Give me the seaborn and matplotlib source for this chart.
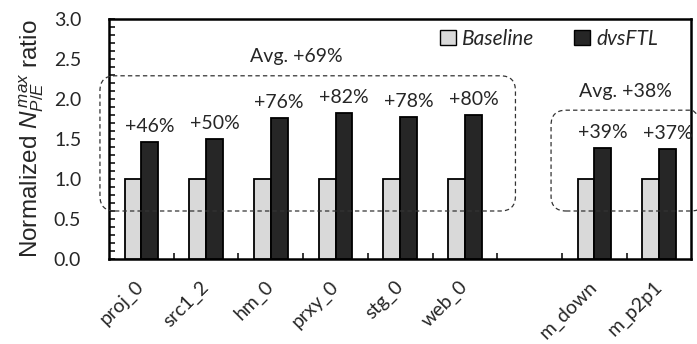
import numpy as np
import pandas as pd
import matplotlib
matplotlib.use("Agg")
import matplotlib.pyplot as plt
import matplotlib.transforms as mtransforms
from matplotlib.patches import FancyBboxPatch, Patch
from matplotlib.ticker import MultipleLocator, FixedLocator, NullFormatter
import seaborn as sns

# ---- data -------------------------------------------------------------
workloads = ["proj_0", "src1_2", "hm_0", "prxy_0", "stg_0", "web_0", "m_down", "m_p2p1"]
baseline = [1.00, 1.00, 1.00, 1.00, 1.00, 1.00, 1.00, 1.00]
dvsftl = [1.46, 1.50, 1.76, 1.82, 1.78, 1.80, 1.39, 1.37]
schemes = ["Baseline", "dvsFTL"]
scheme_colors = ["#d9d9d9", "#262626"]
group_a = workloads[:6]
group_b = workloads[6:]
yticks = [0.0, 0.5, 1.0, 1.5, 2.0, 2.5, 3.0]

# an empty slot separates the two workload groups on the x axis
slots = group_a + [" "] + group_b

df = pd.DataFrame({
    "workload": workloads * 2,
    "scheme": ["Baseline"] * len(workloads) + ["dvsFTL"] * len(workloads),
    "ratio": baseline + dvsftl,
})

# ---- style ------------------------------------------------------------
sns.set_style("ticks")
FONT = "Lato"
LABEL_FONT = "Liberation Sans"
plt.rcParams["font.family"] = [FONT, "DejaVu Sans"]
plt.rcParams["mathtext.fontset"] = "custom"
plt.rcParams["mathtext.rm"] = LABEL_FONT
plt.rcParams["mathtext.it"] = f"{LABEL_FONT}:italic"
plt.rcParams["mathtext.bf"] = f"{LABEL_FONT}:bold"
FS = 14

fig = plt.figure(figsize=(6.97, 3.44), dpi=100)
ax = fig.add_axes([0.1564, 0.2471, 0.8357, 0.6977])

sns.barplot(data=df, x="workload", y="ratio", hue="scheme",
            order=slots, hue_order=schemes, palette=scheme_colors,
            width=0.52, edgecolor="black", linewidth=1.3,
            legend=False, ax=ax, zorder=3)

ax.set_xlim(-0.5, len(slots) - 0.5)
ax.set_ylim(0, 3)

# spines
for sp in ax.spines.values():
    sp.set_visible(True)
    sp.set_linewidth(1.8)
    sp.set_color("black")

# y axis: inward ticks every 0.1, labels every 0.5
ax.yaxis.set_major_locator(FixedLocator(yticks))
ax.yaxis.set_minor_locator(MultipleLocator(0.1))
ax.set_yticklabels([f"{t:.1f}" for t in yticks])
ax.tick_params(axis="y", which="both", direction="in", length=4, width=1.3,
               left=True, right=False, labelsize=FS, pad=20)

# x axis: labels at slot centres, small inward ticks at slot boundaries
ax.xaxis.set_minor_locator(FixedLocator(np.arange(0.5, len(slots) - 1, 1.0)))
ax.xaxis.set_minor_formatter(NullFormatter())
ax.tick_params(axis="x", which="major", length=0, labelsize=FS, pad=18)
ax.tick_params(axis="x", which="minor", direction="in", length=4, width=1.3,
               bottom=True, top=False)
ax.set_xlabel("")
for lab in ax.get_xticklabels():
    lab.set_rotation(45)
    lab.set_ha("right")
    lab.set_va("center")
    lab.set_rotation_mode("anchor")

ax.set_ylabel(r"Normalized $N_{P/E}^{\,max}$ ratio", fontsize=17.5,
              family=LABEL_FONT, labelpad=6)

# value labels above the dvsFTL bars
dvs_bars = ax.containers[1]
labels = [f"+{round((b.get_height() - 1) * 100)}%" for b in dvs_bars]
ax.bar_label(dvs_bars, labels=labels, padding=5, fontsize=FS)

# group averages
avg_a = round(np.mean([(v - 1) * 100 for v in dvsftl[:6]]))
avg_b = round(np.mean([(v - 1) * 100 for v in dvsftl[6:]]))
ax.text(2.40, 2.53, f"Avg. +{avg_a}%", ha="center", va="center", fontsize=FS)
ax.text(7.48, 2.09, f"Avg. +{avg_b}%", ha="center", va="center", fontsize=FS)

# dashed rounded frames around each group (drawn in pixel space)
def rounded_frame(x0, x1, y0, y1, radius=15):
    p0 = ax.transData.transform((x0, y0))
    p1 = ax.transData.transform((x1, y1))
    patch = FancyBboxPatch(p0, p1[0] - p0[0], p1[1] - p0[1],
                           boxstyle=f"round,pad=0,rounding_size={radius}",
                           transform=mtransforms.IdentityTransform(),
                           facecolor="none", edgecolor="#333333",
                           linewidth=0.9, linestyle=(0, (3.5, 2.5)),
                           clip_on=False, zorder=4)
    fig.add_artist(patch)

rounded_frame(-0.64, 5.78, 0.60, 2.29)
rounded_frame(6.33, 8.72, 0.60, 1.86)

# legend
handles = [Patch(facecolor=c, edgecolor="black", linewidth=1.0) for c in scheme_colors]
ax.legend(handles, schemes, loc="center right", bbox_to_anchor=(0.96, 0.917),
          ncol=2, frameon=False, handlelength=0.75, handleheight=0.75,
          handletextpad=0.3, columnspacing=1.9, borderpad=0,
          prop={"family": FONT, "style": "italic", "size": FS + 1})

fig.savefig("out.png", dpi=100)
